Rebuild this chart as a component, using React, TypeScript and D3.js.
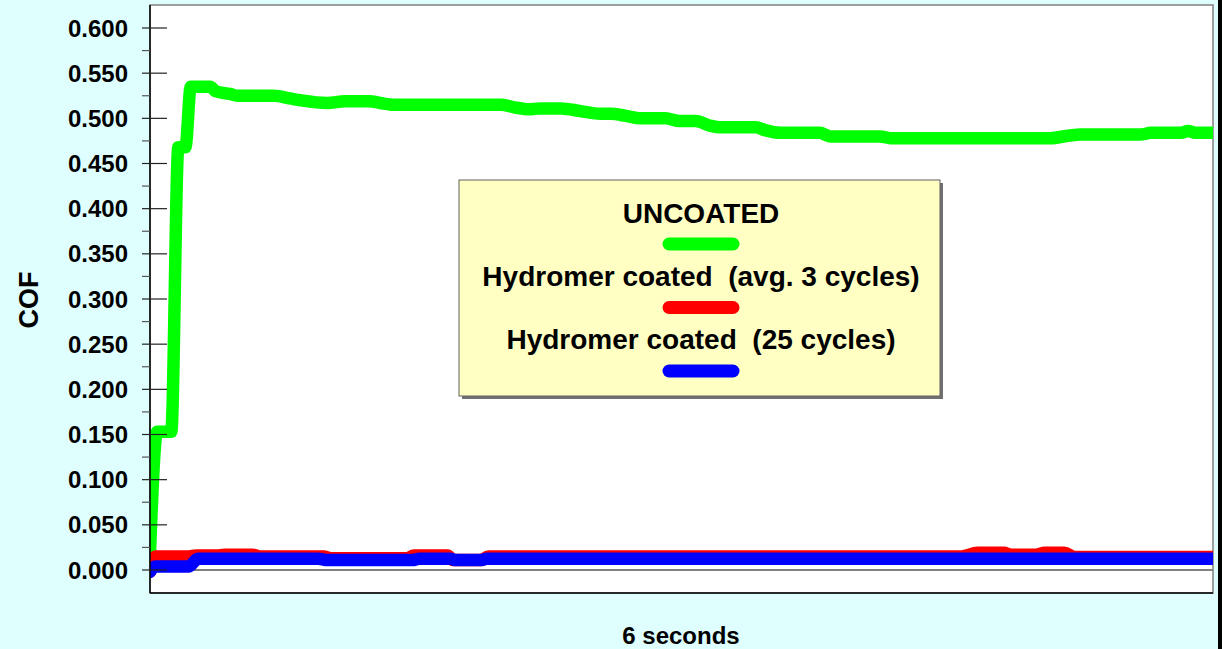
import React from 'react'
import * as d3 from 'd3'

// seconds (0..6) and COF readings
const uncoatedT = [0, 0.04, 0.12, 0.16, 0.2, 0.23, 0.34, 0.37, 0.45, 0.5, 0.7, 0.79, 0.85, 1.0, 1.1, 1.24, 1.3, 1.38, 1.98, 2.06, 2.14, 2.2, 2.32, 2.43, 2.54, 2.6, 2.68, 2.77, 2.91, 2.99, 3.08, 3.16, 3.22, 3.42, 3.47, 3.56, 3.78, 3.84, 4.12, 4.18, 5.08, 5.19, 5.25, 5.59, 5.65, 5.82, 5.86, 5.9, 6.0]
const uncoatedCof = [0.02, 0.153, 0.153, 0.468, 0.468, 0.535, 0.535, 0.53, 0.527, 0.525, 0.525, 0.522, 0.52, 0.517, 0.519, 0.519, 0.517, 0.515, 0.515, 0.512, 0.51, 0.511, 0.511, 0.508, 0.505, 0.505, 0.503, 0.5, 0.5, 0.497, 0.497, 0.492, 0.49, 0.49, 0.487, 0.484, 0.484, 0.48, 0.48, 0.478, 0.478, 0.481, 0.482, 0.482, 0.484, 0.484, 0.486, 0.484, 0.484]

const avg3T = [0, 0.03, 0.22, 0.26, 0.38, 0.42, 0.58, 0.62, 0.98, 1.02, 1.45, 1.49, 1.68, 1.71, 1.87, 1.91, 4.58, 4.67, 4.82, 4.86, 5.0, 5.05, 5.16, 5.22, 6.0]
const avg3Cof = [-0.002, 0.015, 0.015, 0.016, 0.016, 0.017, 0.017, 0.015, 0.015, 0.013, 0.013, 0.016, 0.016, 0.011, 0.011, 0.015, 0.015, 0.019, 0.019, 0.017, 0.017, 0.019, 0.019, 0.0145, 0.0145]

const c25T = [0, 0.03, 0.22, 0.27, 0.95, 1.0, 1.48, 1.52, 1.7, 1.72, 1.87, 1.9, 6.0]
const c25Cof = [-0.002, 0.004, 0.004, 0.0125, 0.0125, 0.011, 0.011, 0.0125, 0.0125, 0.011, 0.011, 0.0125, 0.0125]

const yTicks = d3.range(0, 0.6001, 0.05)
const yMinor = d3.range(0.025, 0.6, 0.05)

const seriesNames = ['UNCOATED', 'Hydromer coated  (avg. 3 cycles)', 'Hydromer coated  (25 cycles)']
const seriesColors = ['#00ff00', '#ff0000', '#0000ff']

const W = 1222
const H = 649
const plot = { left: 150, right: 1213, top: 5, bottom: 593 }
const font = '"Liberation Sans", Arial, sans-serif'

export default function App() {
  const x = d3.scaleLinear().domain([0, 6]).range([plot.left, plot.right])
  const y = d3.scaleLinear().domain([0, 0.6]).range([570, 28])

  const line = d3.line<[number, number]>()
    .x(d => x(d[0]))
    .y(d => y(d[1]))
    .curve(d3.curveMonotoneX)

  const series = [
    d3.zip(uncoatedT, uncoatedCof) as [number, number][],
    d3.zip(avg3T, avg3Cof) as [number, number][],
    d3.zip(c25T, c25Cof) as [number, number][],
  ]

  return (
    <div style={{ position: 'fixed', left: 0, top: 0 }}>
      <svg width={W} height={H} style={{ display: 'block' }}>
        <defs>
          <clipPath id="plotclip">
            <rect x={plot.left} y={plot.top} width={plot.right - plot.left} height={plot.bottom - plot.top} />
          </clipPath>
        </defs>
        <rect x={0} y={0} width={W} height={H} fill="#dfffff" />
        <rect x={plot.left} y={plot.top} width={plot.right - plot.left} height={plot.bottom - plot.top}
          fill="#ffffff" stroke="#808080" strokeWidth={1.5} />

        {/* zero line */}
        <line x1={plot.left} x2={plot.right} y1={y(0)} y2={y(0)} stroke="#808080" strokeWidth={2} />

        <g clipPath="url(#plotclip)">
          {series.map((s, i) => (
            <path key={i} d={line(s) || ''} fill="none" stroke={seriesColors[i]} strokeWidth={12.5}
              strokeLinecap="round" strokeLinejoin="round" />
          ))}
        </g>

        {/* axes */}
        <line x1={plot.left} x2={plot.left} y1={plot.top} y2={plot.bottom} stroke="#000" strokeWidth={1.5} />
        <line x1={plot.left} x2={plot.right} y1={plot.bottom} y2={plot.bottom} stroke="#000" strokeWidth={1.5} />
        {yTicks.map(t => (
          <g key={t}>
            <line x1={142} x2={167} y1={y(t)} y2={y(t)} stroke="#222" strokeWidth={1.2} />
            <text x={128} y={y(t)} dy="0.36em" textAnchor="end" fontFamily={font} fontWeight="bold"
              fontSize={24}>{t.toFixed(3)}</text>
          </g>
        ))}
        {yMinor.map(t => (
          <line key={t} x1={142} x2={150} y1={y(t)} y2={y(t)} stroke="#555" strokeWidth={1.2} />
        ))}

        <text transform="translate(38,300) rotate(-90)" textAnchor="middle" fontFamily={font}
          fontWeight="bold" fontSize={27}>COF</text>
        <text x={681} y={644} textAnchor="middle" fontFamily={font} fontWeight="bold" fontSize={24}>6 seconds</text>

        {/* legend */}
        <rect x={462} y={183} width={481} height={216} fill="#707070" />
        <rect x={459} y={180} width={481} height={216} fill="#ffffc4" stroke="#606060" strokeWidth={1} />
        {seriesNames.map((n, i) => (
          <g key={n}>
            <text x={701} y={223 + i * 63} textAnchor="middle" fontFamily={font} fontWeight="bold"
              fontSize={28} style={{ whiteSpace: 'pre' }}>{n}</text>
            <line x1={669} x2={733} y1={244 + i * 63.5} y2={244 + i * 63.5} stroke={seriesColors[i]}
              strokeWidth={13} strokeLinecap="round" />
          </g>
        ))}

        <rect x={1218} y={0} width={4} height={H} fill="#000" />
      </svg>
    </div>
  )
}
